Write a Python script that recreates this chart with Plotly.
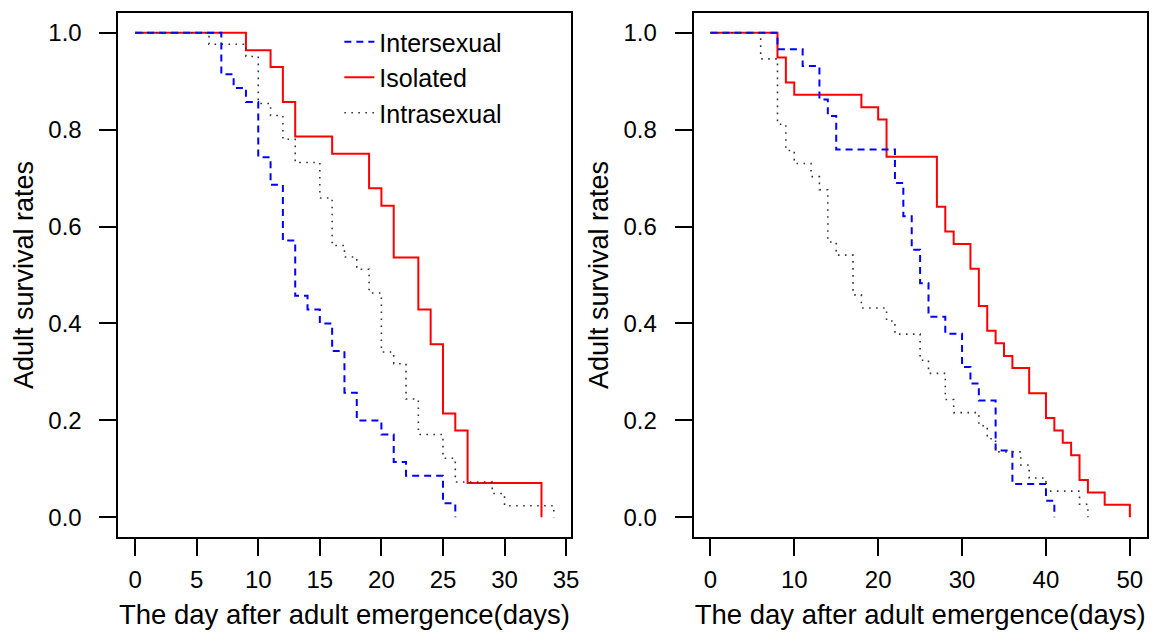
import plotly.graph_objects as go

# ---- data (Kaplan-Meier style step curves) ----
# Left panel
L_isolated_days = [0, 9, 11, 12, 13, 16, 19, 20, 21, 23, 24, 25, 26, 27, 33]
L_isolated_surv = [1.0, 0.964, 0.929, 0.857, 0.786, 0.750, 0.679, 0.643, 0.536, 0.429, 0.357, 0.214, 0.179, 0.071, 0.0]

L_inter_days = [0, 7, 8, 9, 10, 11, 12, 13, 14, 15, 16, 17, 18, 20, 21, 22, 25, 26]
L_inter_surv = [1.0, 0.914, 0.886, 0.857, 0.743, 0.686, 0.571, 0.457, 0.429, 0.400, 0.343, 0.257, 0.200, 0.171, 0.114, 0.086, 0.029, 0.0]

L_intra_days = [0, 6, 9, 10, 11, 12, 13, 15, 16, 17, 18, 19, 20, 21, 22, 23, 25, 26, 29, 30, 34]
L_intra_surv = [1.0, 0.976, 0.951, 0.854, 0.829, 0.780, 0.732, 0.659, 0.561, 0.537, 0.512, 0.463, 0.341, 0.317, 0.244, 0.171, 0.122, 0.073, 0.049, 0.024, 0.0]

# Right panel
R_isolated_days = [0, 8, 9, 10, 18, 20, 21, 27, 28, 29, 31, 32, 33, 34, 35, 36, 38, 40, 41, 42, 43, 44, 45, 47, 50]
R_isolated_surv = [1.0, 0.949, 0.897, 0.872, 0.846, 0.821, 0.744, 0.641, 0.590, 0.564, 0.513, 0.436, 0.385, 0.359, 0.333, 0.308, 0.256, 0.205, 0.179, 0.154, 0.128, 0.077, 0.051, 0.026, 0.0]

R_inter_days = [0, 8, 11, 13, 14, 15, 22, 23, 24, 25, 26, 28, 30, 31, 32, 34, 36, 40, 41]
R_inter_surv = [1.0, 0.966, 0.931, 0.862, 0.828, 0.759, 0.690, 0.621, 0.552, 0.483, 0.414, 0.379, 0.310, 0.276, 0.241, 0.138, 0.069, 0.034, 0.0]

R_intra_days = [0, 6, 8, 9, 10, 12, 13, 14, 15, 17, 18, 21, 22, 25, 26, 28, 29, 32, 33, 34, 37, 38, 40, 44, 45]
R_intra_surv = [1.0, 0.946, 0.811, 0.757, 0.730, 0.703, 0.676, 0.568, 0.541, 0.459, 0.432, 0.405, 0.378, 0.324, 0.297, 0.243, 0.216, 0.189, 0.162, 0.135, 0.108, 0.081, 0.054, 0.027, 0.0]

series_names = ["Intersexual", "Isolated", "Intrasexual"]
left_xticks = [0, 5, 10, 15, 20, 25, 30, 35]
right_xticks = [0, 10, 20, 30, 40, 50]
y_ticks = [0.0, 0.2, 0.4, 0.6, 0.8, 1.0]
x_title = "The day after adult emergence(days)"
y_title = "Adult survival rates"

FONT = "Liberation Sans, Arial, Helvetica, sans-serif"
W, H = 1161, 639

styles = {
    "Isolated": dict(color="#ff0000", width=2, dash="solid"),
    "Intersexual": dict(color="#0000ff", width=2, dash="7px,5px"),
    "Intrasexual": dict(color="#333333", width=1.6, dash="1.6px,5.4px"),
}
rank = {"Intersexual": 1, "Isolated": 2, "Intrasexual": 3}

fig = go.Figure()

def add(days, surv, name, xa, ya, show):
    fig.add_trace(go.Scatter(
        x=days, y=surv, mode="lines", line_shape="hv",
        line=styles[name], name=name, legendrank=rank[name],
        showlegend=show, xaxis=xa, yaxis=ya, hoverinfo="skip"))

# draw order: red, blue, black
add(L_isolated_days, L_isolated_surv, "Isolated", "x", "y", True)
add(L_inter_days, L_inter_surv, "Intersexual", "x", "y", True)
add(L_intra_days, L_intra_surv, "Intrasexual", "x", "y", True)
add(R_isolated_days, R_isolated_surv, "Isolated", "x2", "y2", False)
add(R_inter_days, R_inter_surv, "Intersexual", "x2", "y2", False)
add(R_intra_days, R_intra_surv, "Intrasexual", "x2", "y2", False)

common_axis = dict(
    showline=True, mirror=True, linecolor="black", linewidth=1.8,
    ticks="outside", ticklen=17, tickwidth=1.8, tickcolor="black",
    showgrid=False, zeroline=False,
    tickfont=dict(family=FONT, size=24, color="black"),
)
xtitle_font = dict(family=FONT, size=27.5, color="black")
ytitle_font = dict(family=FONT, size=27, color="black")

ydom = [102.3 / H, 625.7 / H]
fig.update_layout(
    width=W, height=H,
    margin=dict(l=0, r=0, t=0, b=0),
    paper_bgcolor="white", plot_bgcolor="white",
    font=dict(family=FONT, color="black"),
    xaxis=dict(domain=[119.3 / W, 575.0 / W], range=[-1.36, 35.36],
               tickvals=left_xticks, anchor="y",
               title=dict(text=x_title, standoff=12, font=xtitle_font),
               ticklabelstandoff=4, **common_axis),
    yaxis=dict(domain=ydom, range=[-0.04, 1.04], tickvals=y_ticks,
               tickformat=".1f", anchor="x",
               title=dict(text=y_title, standoff=7, font=ytitle_font),
               ticklabelstandoff=13, **common_axis),
    xaxis2=dict(domain=[699.0 / W, 1155.6 / W], range=[-2, 52],
                tickvals=right_xticks, anchor="y2",
                title=dict(text=x_title, standoff=12, font=xtitle_font),
                ticklabelstandoff=4, **common_axis),
    yaxis2=dict(domain=ydom, range=[-0.04, 1.04], tickvals=y_ticks,
                tickformat=".1f", anchor="x2",
                title=dict(text=y_title, standoff=7, font=ytitle_font),
                ticklabelstandoff=13, **common_axis),
    legend=dict(x=342 / W, y=1 - 19 / H, xanchor="left", yanchor="top",
                bgcolor="rgba(0,0,0,0)", borderwidth=0,
                font=dict(family=FONT, size=25, color="black"),
                tracegroupgap=0),
    showlegend=True,
)

fig.write_html("out.html")
